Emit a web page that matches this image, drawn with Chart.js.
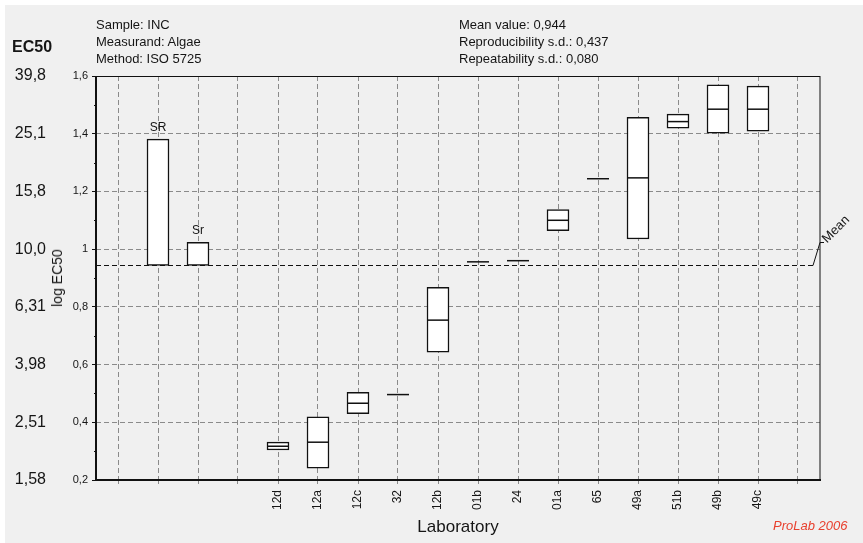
<!DOCTYPE html>
<html lang="en">
<head>
    <meta charset="UTF-8">
    <title>EC50 - Algae</title>
    <script src="https://cdn.jsdelivr.net/npm/chart.js"></script>
    <style>
        body {
            margin: 0;
            background: #ffffff;
            font-family: 'Liberation Sans', Arial, sans-serif;
            color: #151515;
        }
        .panel {
            position: absolute;
            left: 5px; top: 5px;
            width: 858px; height: 538px;
            background: #f0f0f0;
        }
        #wrap {
            position: absolute;
            left: 0; top: 0;
            width: 863px; height: 543px;
        }
        .txt {
            position: absolute;
            white-space: nowrap;
            line-height: 1;
        }
        .info {
            font-size: 13px;
            line-height: 17px;
        }
    </style>
</head>
<body>
    <div class="panel"></div>
    <div id="wrap"><canvas id="chart" width="863" height="543"></canvas></div>

    <div class="txt info" style="left:96px; top:16px;">Sample: INC<br>Measurand: Algae<br>Method: ISO 5725</div>
    <div class="txt info" style="left:459px; top:16px;">Mean value: 0,944<br>Reproducibility s.d.: 0,437<br>Repeatability s.d.: 0,080</div>
    <div class="txt" style="left:12px; top:39px; font-size:16px; font-weight:bold;">EC50</div>
    <div class="txt" style="left:57px; top:278px; font-size:14px; transform:translate(-50%,-50%) rotate(-90deg);">log EC50</div>
    <div class="txt" style="left:458px; top:518px; font-size:17px; transform:translateX(-50%);">Laboratory</div>
    <div class="txt" style="left:773px; top:519px; font-size:13px; font-style:italic; color:#e8402e;">ProLab 2006</div>

    <script>
        // x positions: one slot per label (blank slots are empty columns)
        const xLabels = ['', '', '', '', '12d', '12a', '12c', '32', '12b', '01b', '24', '01a', '65', '49a', '51b', '49b', '49c', ''];

        // summary statistics (log EC50)
        const meanValue = 0.944;
        const statLabels = ['SR', 'Sr'];
        const statSd = [0.437, 0.080];
        const statPos = [1, 2];

        // laboratory results: lowest, highest and median of replicates
        const labs      = ['12d', '12a', '12c', '32', '12b', '01b', '24', '01a', '65', '49a', '51b', '49b', '49c'];
        const labLow    = [0.304, 0.241, 0.430, 0.496, 0.643, 0.956, 0.960, 1.064, 1.244, 1.035, 1.419, 1.402, 1.409];
        const labHigh   = [0.331, 0.419, 0.504, 0.496, 0.868, 0.956, 0.960, 1.137, 1.244, 1.457, 1.468, 1.569, 1.565];
        const labMedian = [0.317, 0.331, 0.466, 0.496, 0.754, 0.956, 0.960, 1.100, 1.244, 1.247, 1.442, 1.485, 1.485];

        // axis ticks
        const yTicks = [0.2, 0.4, 0.6, 0.8, 1.0, 1.2, 1.4, 1.6];
        const yTickLabels = ['0,2', '0,4', '0,6', '0,8', '1', '1,2', '1,4', '1,6'];
        const ec50Labels = ['1,58', '2,51', '3,98', '6,31', '10,0', '15,8', '25,1', '39,8'];
        const minorTicks = [0.3, 0.5, 0.7, 0.9, 1.1, 1.3, 1.5];

        const boxData = [];
        statSd.forEach((sd, i) => boxData.push({ x: statPos[i], y: [meanValue, meanValue + sd] }));
        labs.forEach((lab, i) => {
            if (labLow[i] !== labHigh[i]) {
                boxData.push({ x: xLabels.indexOf(lab), y: [labLow[i], labHigh[i]] });
            }
        });
        const medianData = labs.map((lab, i) => ({ x: xLabels.indexOf(lab), y: labMedian[i] }));

        const gridGrey = '#8a8a8a';

        // mean line, frame, minor ticks and SR/Sr captions
        const extras = {
            id: 'extras',
            beforeDatasetsDraw(chart) {
                const { ctx, chartArea: a, scales: { y } } = chart;
                const ym = Math.round(y.getPixelForValue(meanValue)) + 0.5;
                ctx.save();
                ctx.strokeStyle = '#111';
                ctx.lineWidth = 1.2;
                ctx.setLineDash([5, 3]);
                ctx.beginPath();
                ctx.moveTo(a.left, ym);
                ctx.lineTo(a.right - 7, ym);
                ctx.stroke();
                ctx.restore();
            },
            afterDraw(chart) {
                const { ctx, chartArea: a, scales: { y } } = chart;
                ctx.save();
                // frame
                ctx.strokeStyle = '#111';
                ctx.lineWidth = 1;
                ctx.strokeRect(a.left + 0.5, a.top + 0.5, a.right - a.left - 0.5, a.bottom - a.top);
                ctx.lineWidth = 2;
                ctx.beginPath();
                ctx.moveTo(a.left, a.top);
                ctx.lineTo(a.left, a.bottom);
                ctx.lineTo(a.right + 1, a.bottom);
                ctx.stroke();
                // minor ticks
                ctx.lineWidth = 1;
                minorTicks.forEach(v => {
                    const p = Math.round(y.getPixelForValue(v)) + 0.5;
                    ctx.beginPath();
                    ctx.moveTo(a.left - 2, p);
                    ctx.lineTo(a.left, p);
                    ctx.stroke();
                });
                // mean leader + label
                const ym = Math.round(y.getPixelForValue(meanValue)) + 0.5;
                ctx.beginPath();
                ctx.moveTo(a.right - 7, ym);
                ctx.lineTo(a.right, ym - 23);
                ctx.lineTo(a.right + 4, ym - 23);
                ctx.stroke();
                ctx.fillStyle = '#151515';
                ctx.font = '13px "Liberation Sans", Arial, sans-serif';
                ctx.translate(a.right + 7, ym - 22);
                ctx.rotate(-Math.PI / 4);
                ctx.fillText('Mean', 0, 0);
                ctx.restore();

                // SR / Sr captions above their bars
                const bars = chart.getDatasetMeta(0).data;
                ctx.save();
                ctx.fillStyle = '#151515';
                ctx.font = '12px "Liberation Sans", Arial, sans-serif';
                ctx.textAlign = 'center';
                ctx.textBaseline = 'alphabetic';
                statLabels.forEach((t, i) => {
                    const b = bars[i];
                    ctx.fillText(t, b.x, b.y - 8);
                });
                ctx.restore();
            }
        };

        new Chart(document.getElementById('chart'), {
            type: 'bar',
            data: {
                datasets: [{
                    type: 'bar',
                    data: boxData,
                    backgroundColor: '#ffffff',
                    borderColor: '#111111',
                    borderWidth: 1.5,
                    borderSkipped: false,
                    barThickness: 22,
                    order: 2
                }, {
                    type: 'scatter',
                    data: medianData,
                    pointStyle: 'line',
                    pointRadius: 11,
                    pointHoverRadius: 11,
                    pointBorderWidth: 1.5,
                    borderColor: '#111111',
                    backgroundColor: '#111111',
                    order: 1
                }]
            },
            options: {
                responsive: false,
                animation: false,
                events: [],
                layout: { padding: { top: 76, right: 43, left: 0, bottom: 0 } },
                plugins: { legend: { display: false }, tooltip: { enabled: false } },
                scales: {
                    x: {
                        type: 'linear',
                        min: -0.55,
                        max: 17.55,
                        offset: false,
                        afterBuildTicks: s => { s.ticks = xLabels.map((_, i) => ({ value: i })); },
                        afterFit: s => { s.height = 63; },
                        grid: { color: gridGrey, lineWidth: 1, offset: false, tickLength: 4, tickColor: gridGrey, tickBorderDash: [] },
                        border: { display: false, dash: [5, 3] },
                        ticks: {
                            autoSkip: false,
                            maxRotation: 90,
                            minRotation: 90,
                            padding: 6,
                            color: '#151515',
                            font: { family: '"Liberation Sans", Arial, sans-serif', size: 12 },
                            callback: v => xLabels[v] || ''
                        }
                    },
                    y: {
                        type: 'linear',
                        position: 'left',
                        weight: 0,
                        min: 0.2,
                        max: 1.6,
                        afterBuildTicks: s => { s.ticks = yTicks.map(v => ({ value: v })); },
                        afterFit: s => { s.width = 46; },
                        grid: { color: gridGrey, lineWidth: 1, tickLength: 4, tickColor: '#111', tickBorderDash: [] },
                        border: { display: false, dash: [5, 3] },
                        ticks: {
                            padding: 4,
                            color: '#151515',
                            font: { family: '"Liberation Sans", Arial, sans-serif', size: 11 },
                            callback: (v, i) => yTickLabels[i]
                        }
                    },
                    yEC: {
                        type: 'linear',
                        position: 'left',
                        weight: 1,
                        min: 0.2,
                        max: 1.6,
                        afterBuildTicks: s => { s.ticks = yTicks.map(v => ({ value: v })); },
                        afterFit: s => { s.width = 50; },
                        grid: { display: false, drawTicks: false },
                        border: { display: false },
                        ticks: {
                            padding: 4,
                            color: '#151515',
                            font: { family: '"Liberation Sans", Arial, sans-serif', size: 16 },
                            callback: (v, i) => ec50Labels[i]
                        }
                    }
                }
            },
            plugins: [extras]
        });
    </script>
</body>
</html>
